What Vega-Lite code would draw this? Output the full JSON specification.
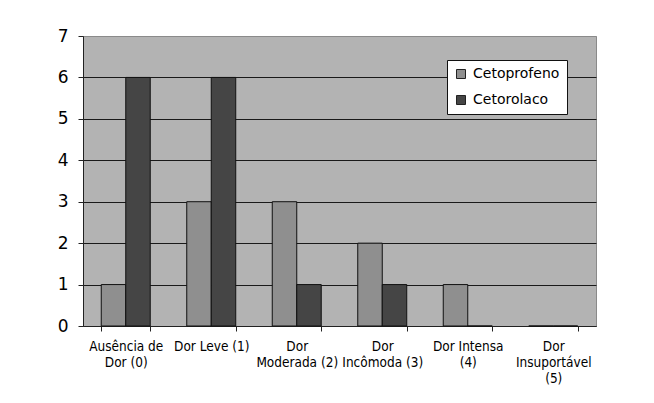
{
  "$schema": "https://vega.github.io/schema/vega-lite/v6.json",
  "autosize": {"type": "none"},
  "padding": {"left": 83, "top": 36, "right": 58, "bottom": 77},
  "width": 513,
  "height": 290,
  "background": "white",
  "config": {
    "view": {"fill": "#b3b3b3", "stroke": "#8a8a8a", "strokeWidth": 1},
    "font": "DejaVu Sans"
  },
  "data": {
    "values": [
      {"cat": "Ausência de|Dor (0)", "series": "Cetoprofeno", "value": 1},
      {"cat": "Ausência de|Dor (0)", "series": "Cetorolaco", "value": 6},
      {"cat": "Dor Leve (1)", "series": "Cetoprofeno", "value": 3},
      {"cat": "Dor Leve (1)", "series": "Cetorolaco", "value": 6},
      {"cat": "Dor|Moderada (2)", "series": "Cetoprofeno", "value": 3},
      {"cat": "Dor|Moderada (2)", "series": "Cetorolaco", "value": 1},
      {"cat": "Dor|Incômoda (3)", "series": "Cetoprofeno", "value": 2},
      {"cat": "Dor|Incômoda (3)", "series": "Cetorolaco", "value": 1},
      {"cat": "Dor Intensa|(4)", "series": "Cetoprofeno", "value": 1},
      {"cat": "Dor Intensa|(4)", "series": "Cetorolaco", "value": 0},
      {"cat": "Dor|Insuportável|(5)", "series": "Cetoprofeno", "value": 0},
      {"cat": "Dor|Insuportável|(5)", "series": "Cetorolaco", "value": 0}
    ]
  },
  "mark": {"type": "bar", "stroke": "#111111", "strokeWidth": 1},
  "encoding": {
    "x": {
      "field": "cat",
      "type": "nominal",
      "sort": null,
      "scale": {"paddingInner": 0.427, "paddingOuter": 0.2135},
      "axis": {
        "title": null,
        "labelAngle": 0,
        "labelExpr": "split(datum.label, '|')",
        "labelFont": "DejaVu Sans Condensed",
        "labelFontSize": 13.5,
        "labelColor": "#000000",
        "labelLineHeight": 16,
        "labelPadding": 8,
        "labelBaseline": "top",
        "labelOverlap": false,
        "tickBand": "extent",
        "tickSize": 5,
        "tickColor": "#222222",
        "domainColor": "#222222",
        "grid": false
      }
    },
    "xOffset": {"field": "series", "type": "nominal", "scale": {"paddingInner": 0, "paddingOuter": 0}},
    "y": {
      "field": "value",
      "type": "quantitative",
      "scale": {"domain": [0, 7], "nice": false},
      "axis": {
        "title": null,
        "values": [0, 1, 2, 3, 4, 5, 6, 7],
        "labelFont": "DejaVu Sans",
        "labelFontSize": 17,
        "labelColor": "#000000",
        "labelPadding": 10,
        "tickSize": 5,
        "tickColor": "#222222",
        "domainColor": "#222222",
        "grid": true,
        "gridColor": {"condition": {"test": "datum.value == 7", "value": "#8a8a8a"}, "value": "#1a1a1a"},
        "gridOpacity": 1,
        "gridWidth": 1
      }
    },
    "color": {
      "field": "series",
      "type": "nominal",
      "scale": {"domain": ["Cetoprofeno", "Cetorolaco"], "range": ["#8f8f8f", "#454545"]},
      "legend": {
        "title": null,
        "orient": "none",
        "legendX": 364,
        "legendY": 24,
        "fillColor": "white",
        "strokeColor": "#111111",
        "padding": 7,
        "symbolType": "square",
        "symbolSize": 81,
        "symbolStrokeColor": "#222222",
        "symbolStrokeWidth": 1,
        "symbolOpacity": 1,
        "labelFont": "DejaVu Sans",
        "labelFontSize": 14,
        "labelColor": "#000000",
        "labelOffset": 5,
        "rowPadding": 12
      }
    }
  }
}
